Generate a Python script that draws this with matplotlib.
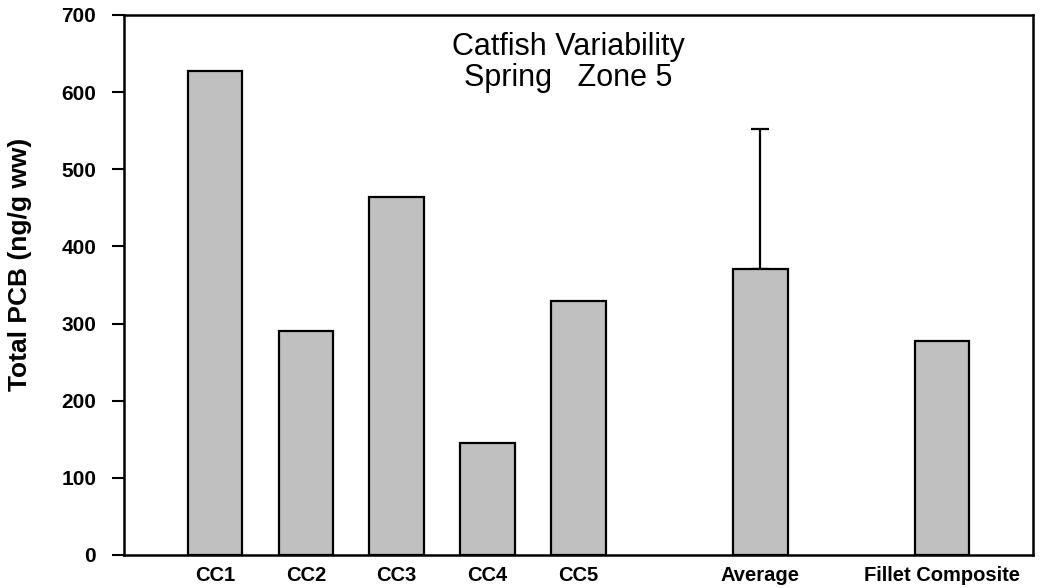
import matplotlib
matplotlib.use("Agg")
import matplotlib.pyplot as plt

categories = ["CC1", "CC2", "CC3", "CC4", "CC5", "Average", "Fillet Composite"]
positions = [1, 2, 3, 4, 5, 7, 9]
values = [627, 291, 464, 145, 329, 371, 278]
errors_upper = [0, 0, 0, 0, 0, 181, 0]
title_lines = ["Catfish Variability", "Spring   Zone 5"]

plt.rcParams['font.family'] = ['Liberation Sans', 'DejaVu Sans']

W, H = 1050, 588
fig = plt.figure(figsize=(W/100, H/100), dpi=100)
ax = fig.add_axes([124/W, 33/H, (1033-124)/W, (555-15)/H])

ax.bar(positions, values, width=0.6, color='#c0c0c0', edgecolor='black', linewidth=1.6, zorder=2)
ax.errorbar([positions[5]], [values[5]], yerr=[[0], [errors_upper[5]]], fmt='none',
            ecolor='black', elinewidth=1.6, capsize=6.8, capthick=1.6, zorder=1)

ax.set_xlim(0, 10)
ax.set_ylim(0, 700)
ax.set_yticks(range(0, 701, 100))
ax.set_xticks(positions)
ax.set_xticklabels(categories, fontsize=14.5, fontweight='bold')
ax.tick_params(axis='x', length=0, pad=8)
ax.tick_params(axis='y', direction='out', length=9, width=1.5, pad=11, labelsize=15)
for lab in ax.get_yticklabels():
    lab.set_fontweight('bold')
for s in ax.spines.values():
    s.set_linewidth(1.8)

fig.text(20/W, 1 - 264/H, "Total PCB (ng/g ww)", rotation=90, ha='center', va='center',
         fontsize=19, fontweight='bold')
fig.text(568/W, 1 - 55.5/H, title_lines[0], ha='center', va='baseline', fontsize=22)
fig.text(568/W, 1 - 86/H, title_lines[1], ha='center', va='baseline', fontsize=22)

fig.savefig("out.png", dpi=100)
